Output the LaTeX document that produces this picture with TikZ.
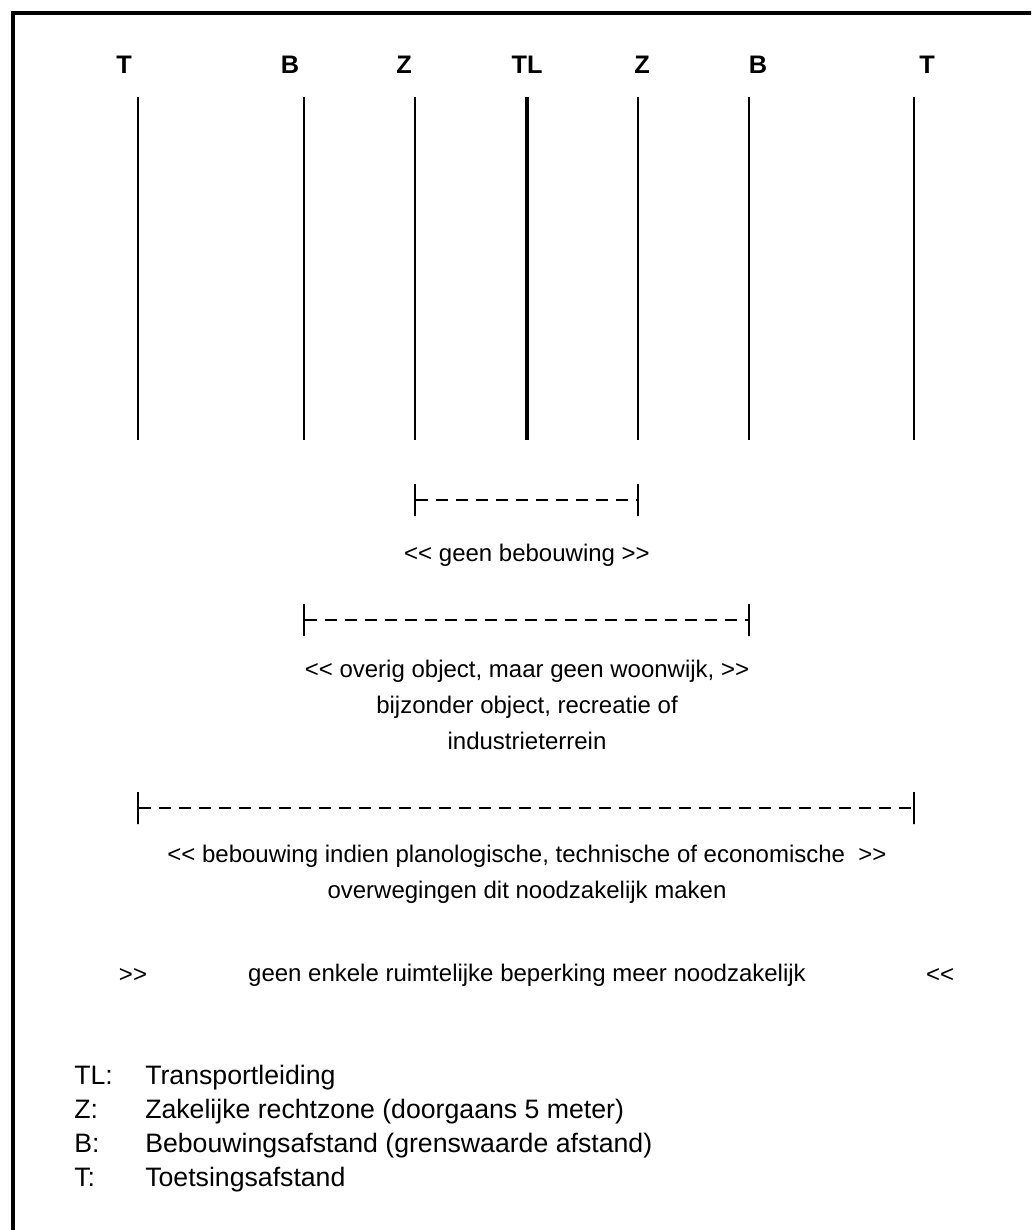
\documentclass[tikz,border=0pt]{standalone}
\usepackage{fontspec}
\usepackage{tikz}
\usetikzlibrary{positioning,calc}
\newfontfamily\diagfont{Liberation Sans}

\begin{document}
\begin{tikzpicture}[x=0.75pt,y=-0.75pt,font=\diagfont\fontsize{18pt}{27pt}\selectfont]
  \tikzset{zonelabel/.style={font=\diagfont\bfseries\fontsize{19pt}{22pt}\selectfont,inner sep=0pt},
    zoneline/.style={line width=1.5pt},
    rangetick/.style={draw,line width=1.5pt,inner sep=0pt,minimum width=0pt,minimum height=24pt},
    rangebar/.style={line width=2.2pt,dash pattern=on 9pt off 6pt},
    note/.style={align=center,inner sep=0pt},
    legendkey/.style={anchor=base west,inner sep=0pt,font=\diagfont\fontsize{20pt}{24pt}\selectfont}}

  \useasboundingbox (0,0) rectangle (1031,1230);
  \clip (0,0) rectangle (1031,1230);
  \draw[line width=3pt] (13,13) rectangle (1060,1260);

  \node[zonelabel] (tLl) at (124,65) {T};
  \node[zonelabel] (bLl) at (290,65) {B};
  \node[zonelabel] (zLl) at (404,65) {Z};
  \node[zonelabel] (tll) at (527,65) {TL};
  \node[zonelabel] (zRl) at (642,65) {Z};
  \node[zonelabel] (bRl) at (758,65) {B};
  \node[zonelabel] (tRl) at (927,65) {T};

  \foreach \name/\xpos in {tL/138,bL/304,zL/415,zR/638,bR/749,tR/914}{
    \coordinate (\name top) at (\xpos,97);
    \coordinate (\name bot) at (\xpos,440);
    \draw[zoneline] (\name top) -- (\name bot);
  }
  \coordinate (tl top) at (527,97);
  \coordinate (tl bot) at (527,440);
  \draw[zoneline,line width=3pt] (tl top) -- (tl bot);

  \node[rangetick] (geenL) at (415,500) {};
  \node[rangetick] (geenR) at (638,500) {};
  \draw[rangebar] (geenL) -- (geenR);
  \node[note] (geen) at (527,555) {<< geen bebouwing >>};

  \node[rangetick] (overigL) at (304,620) {};
  \node[rangetick] (overigR) at (749,620) {};
  \draw[rangebar] (overigL) -- (overigR);
  \node[note,anchor=north] (overig) at (527,660) {<< overig object, maar geen woonwijk, >>\\
    bijzonder object, recreatie of\\
    industrieterrein};

  \node[rangetick] (toetsL) at (138,808) {};
  \node[rangetick] (toetsR) at (914,808) {};
  \draw[rangebar] (toetsL) -- (toetsR);
  \node[note,anchor=north] (toets) at (527,845) {<< bebouwing indien planologische, technische of economische~ >>\\
    overwegingen dit noodzakelijk maken};

  \node[note] (vrijL) at (133,975) {>>};
  \node[note] (vrij) at (527,975) {geen enkele ruimtelijke beperking meer noodzakelijk};
  \node[note] (vrijR) at (940,975) {<<};

  \node[legendkey] (keyTL) at (74,1084) {TL:};
  \node[legendkey] (keyZ) at (74,1118) {Z:};
  \node[legendkey] (keyB) at (74,1152) {B:};
  \node[legendkey] (keyT) at (74,1186) {T:};
  \node[legendkey] (txtTL) at (145,1084) {Transportleiding};
  \node[legendkey] (txtZ) at (145,1118) {Zakelijke rechtzone (doorgaans 5 meter)};
  \node[legendkey] (txtB) at (145,1152) {Bebouwingsafstand (grenswaarde afstand)};
  \node[legendkey] (txtT) at (145,1186) {Toetsingsafstand};
\end{tikzpicture}
\end{document}
